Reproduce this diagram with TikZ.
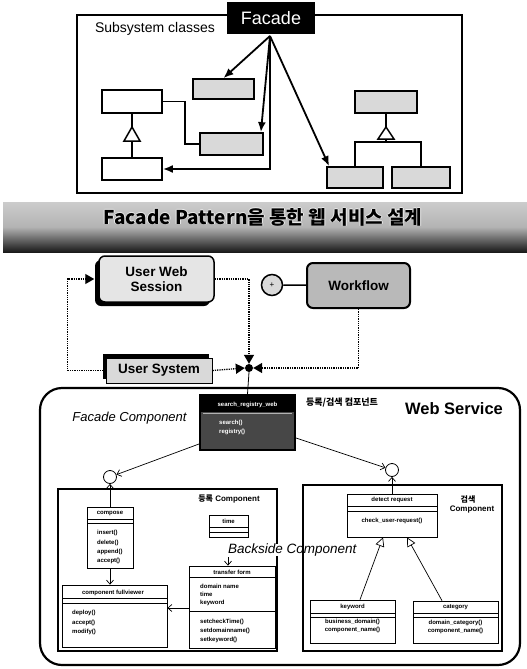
\documentclass[tikz,border=0pt]{standalone}
\usepackage{fontspec}
\setmainfont{Liberation Sans}
\newfontfamily\kr{Noto Sans CJK KR}
\usetikzlibrary{arrows.meta,shadows,shapes.geometric}
\newcommand\myfs[1]{\fontsize{#1}{#1}\selectfont}
\newcommand\bx[6]{\node[#6, minimum width={(#4-#2)*1pt}, minimum height={(#5-#3)*1pt}] (#1) at ({(#2+#4)/2},{(#3+#5)/2}) {};}
\begin{document}
\begin{tikzpicture}[x=1pt,y=-1pt,
  sbox/.style={draw, line width=1.8pt, fill=gray!30, inner sep=0},
  wbox/.style={draw, line width=1.8pt, fill=white, inner sep=0},
  barrow/.style={line width=1.8pt, -{Latex[length=10pt,width=8pt]}},
  sline/.style={line width=1.5pt},
  dotl/.style={line width=1.3pt, dash pattern=on 1.3pt off 1pt},
  dtip/.style={-{Triangle[length=9pt,width=10pt]}},
  cls/.style={draw, line width=0.7pt, fill=white, inner sep=0},
  ct/.style={font=\myfs{6}\bfseries, inner sep=0},
  ctl/.style={ct, anchor=west},
  varrow/.style={line width=0.7pt, -{Straight Barb[length=4pt,width=7pt]}},
  gen/.style={line width=0.7pt, -{Triangle[open,length=9pt,width=9pt]}},
  comp/.style={draw, line width=1.3pt, inner sep=0},
  circ/.style={draw, circle, line width=0.8pt, fill=white, minimum size=13pt, inner sep=0}
]
\useasboundingbox (0,0) rectangle (527,669);
\fill[white] (0,0) rectangle (527,669);

% ---------- top: Facade pattern ----------
\bx{sub}{77}{15}{462}{193}{draw, line width=1.8pt}
\node[font=\myfs{14}, inner sep=0] (subt) at (155,29) {Subsystem classes};
\node[fill=black, text=white, font=\myfs{18}, minimum width=88pt, minimum height=32pt, inner sep=0] (fac) at (271,18) {Facade};
\coordinate (fo) at (270,36);

\bx{b1}{193}{79}{254}{99}{sbox}
\bx{b2}{102}{90}{162}{113}{wbox}
\bx{b3}{200}{133}{263}{155}{sbox}
\bx{b4}{102}{158}{162}{180}{wbox}
\bx{r1}{355}{91}{417}{113}{sbox}
\bx{r2}{327}{167}{383}{188}{sbox}
\bx{r3}{392}{167}{450}{188}{sbox}

\draw[barrow] (fo) -- (b1.north);
\draw[barrow] (fo) -- ([xshift=-3pt]b3.north east);
\draw[barrow] (fo) -- (fo |- b4.east) -- (b4.east);
\draw[barrow] (fo) -- ([xshift=3pt]r2.north west);

\draw[sline] (b2.south) -- (132,127);
\draw[sline] (132,141) -- (b4.north);
\draw[sline, fill=white] (132,127) -- (140,141) -- (124,141) -- cycle;
\draw[sline] (b2.east) -| (185,144) -- (b3.west);

\draw[sline] (r1.south) -- (386,127);
\draw[sline, fill=white] (386,127) -- (394,139) -- (378,139) -- cycle;
\draw[sline] (386,139) -- (386,142);
\draw[sline] (r2.north) -- (r2.north |- 0,142) -- (r3.north |- 0,142) -- (r3.north);

% ---------- header band ----------
\shade[top color=gray!40, bottom color=black!90, middle color=gray!60] (3,202) rectangle (527,252);
\foreach \dx/\dy in {-0.7/0,0.7/0,0/-0.7,0/0.7}
  \node[font=\kr\myfs{19}\bfseries, text=white!85!gray, inner sep=0] at (263+\dx,217+\dy) {Facade Pattern을 통한 웹 서비스 설계};
\node[font=\kr\myfs{19}\bfseries, text=black, inner sep=0] (title) at (263,217) {Facade Pattern을 통한 웹 서비스 설계};

% ---------- middle: workflow ----------
\node[draw, line width=1.5pt, rounded corners=6pt, fill=gray!20, minimum width=115pt, minimum height=46pt,
      align=center, font=\myfs{13.5}\bfseries,
      drop shadow={shadow xshift=-4pt, shadow yshift=-4pt, fill=black, opacity=1}] (uws) at (156.5,279) {User Web\\[1pt]Session};
\node[draw, circle, line width=1.5pt, fill=gray!30, minimum size=21pt, inner sep=0, font=\myfs{8}] (pc) at (272,285) {+};
\node[draw, line width=2pt, rounded corners=6pt, fill=gray!55, minimum width=103pt, minimum height=45pt,
      font=\myfs{13.5}\bfseries] (wf) at (358.5,285.5) {Workflow};
\draw[line width=1.5pt] (pc) -- (wf);
\node[draw, line width=1pt, fill=gray!30, minimum width=106pt, minimum height=25pt, inner sep=0,
      font=\myfs{13.5}\bfseries,
      drop shadow={shadow xshift=-3pt, shadow yshift=4pt, fill=black, opacity=1}] (us) at (159,370.5) {User System};
\node[circle, fill=black, minimum size=8pt, inner sep=0] (jn) at (249,368) {};

\draw[dotl, dtip] (uws.east) -| (jn.north);
\draw[dotl, dtip] (us.east) -- (jn.west);
\draw[dotl, dtip] (wf.south) |- (jn.east);
\draw[dotl, dtip] (us.west) -- ++(-38,0) |- ([xshift=-4pt]uws.west);

% ---------- web service ----------
\bx{ws}{40}{388}{520}{665}{draw, line width=2.2pt, rounded corners=22pt}
\node[font=\myfs{16.5}\bfseries, inner sep=0] (wst) at (454,409) {Web Service};
\node[font=\myfs{13}\itshape, inner sep=0] (fct) at (129.5,418) {Facade Component};
\node[font=\kr\myfs{9}\bfseries, inner sep=0] (krt) at (342,403) {등록/검색 컴포넌트};

\bx{fc}{200}{395}{295}{450}{draw, line width=2pt, fill=black!72}
\fill[black] (201,396) rectangle (294,412);
\draw[gray!60, line width=0.5pt] (203,413) -- (292,413);
\node[ct, text=white] at (247.5,405) {search\_registry\_web};
\node[ctl, text=white] at (219,423) {search()};
\node[ctl, text=white] at (219,431.5) {registry()};
\draw[line width=0.8pt] (jn.south) -- (fc.north);

\node[circ] (lc) at (110,477) {};
\node[circ] (rc) at (392,470) {};
\draw[varrow] ([yshift=7pt]fc.south west) -- (lc);
\draw[varrow] ([yshift=13pt]fc.south east) -- (rc);

% left component
\bx{lcb}{58}{489}{277}{651}{comp}
\node[font=\myfs{8}\bfseries, inner sep=0] (lct) at (229,499) {{\kr 등록} Component};

\bx{cmp}{87}{507}{133}{568}{cls}
\node[ct] at (110,513) {compose};
\draw[line width=0.6pt] (87,519) -- (133,519);
\draw[line width=0.6pt] (87,523) -- (133,523);
\node[ctl] at (97,533) {insert()};
\node[ctl] at (97,542.5) {delete()};
\node[ctl] at (97,551.5) {append()};
\node[ctl] at (97,560.5) {accept()};

\bx{cf}{62}{585}{167}{647}{cls}
\node[ct] at (113,592.5) {component fullviewer};
\draw[line width=0.6pt] (62,598) -- (167,598);
\draw[line width=0.6pt] (62,603) -- (167,603);
\node[ctl] at (72,613) {deploy()};
\node[ctl] at (72,622.5) {accept()};
\node[ctl] at (72,631.5) {modify()};

\bx{tm}{209}{515}{248}{537}{cls}
\node[ct] at (228.5,521.5) {time};
\draw[line width=0.6pt] (209,527.5) -- (248,527.5);
\draw[line width=0.6pt] (209,532) -- (248,532);

\bx{tf}{189}{566}{275}{648}{cls}
\node[ct] at (232,572) {transfer form};
\draw[line width=0.6pt] (189,577) -- (275,577);
\node[ctl] at (200,586) {domain name};
\node[ctl] at (200,594.5) {time};
\node[ctl] at (200,603) {keyword};
\draw[line width=0.6pt] (189,611) -- (275,611);
\node[ctl] at (200,622) {setcheckTime()};
\node[ctl] at (200,631) {setdomainname()};
\node[ctl] at (200,640) {setkeyword()};

\draw[varrow] (cmp.north) -- (lc.south);
\draw[varrow] (cmp.south) -- (cmp.south |- cf.north);
\draw[varrow] (tf.west |- 0,608) -- (cf.east |- 0,608);
\coordinate (bs) at (228,557);
\draw[varrow] (bs) -- (bs |- tf.north);

\node[font=\myfs{13.5}\itshape, inner sep=0, anchor=west, fill=white, inner xsep=1pt] (bst) at (227,550) {Backside Component};

% right component
\bx{rcb}{303}{485}{502}{651}{comp}
\node[font=\kr\myfs{8}\bfseries, inner sep=0] (rct1) at (468,499) {검색};
\node[font=\myfs{8}\bfseries, inner sep=0] (rct2) at (472,510) {Component};

\bx{dr}{347}{494}{437}{537}{cls}
\node[ct] at (392,500) {detect request};
\draw[line width=0.6pt] (347,506) -- (437,506);
\draw[line width=0.6pt] (347,511) -- (437,511);
\node[ct] at (392,521) {check\_user-request()};

\bx{kw}{310}{600}{395}{643}{cls}
\node[ct] at (352.5,607) {keyword};
\draw[line width=0.6pt] (310,613) -- (395,613);
\draw[line width=0.6pt] (310,617) -- (395,617);
\node[ct] at (352.5,622) {business\_domain()};
\node[ct] at (352.5,630) {component\_name()};

\bx{cat}{413}{601}{498}{643}{cls}
\node[ct] at (455.5,607.5) {category};
\draw[line width=0.6pt] (413,613.5) -- (498,613.5);
\draw[line width=0.6pt] (413,617.5) -- (498,617.5);
\node[ct] at (455.5,622.5) {domain\_category()};
\node[ct] at (455.5,630.5) {component\_name()};

\draw[varrow] (dr.north) -- (rc.south);
\draw[gen] ([xshift=7.5pt]kw.north) -- ([xshift=-9pt]dr.south);
\draw[gen] ([xshift=-13.5pt]cat.north) -- ([xshift=15pt]dr.south);
\end{tikzpicture}
\end{document}
